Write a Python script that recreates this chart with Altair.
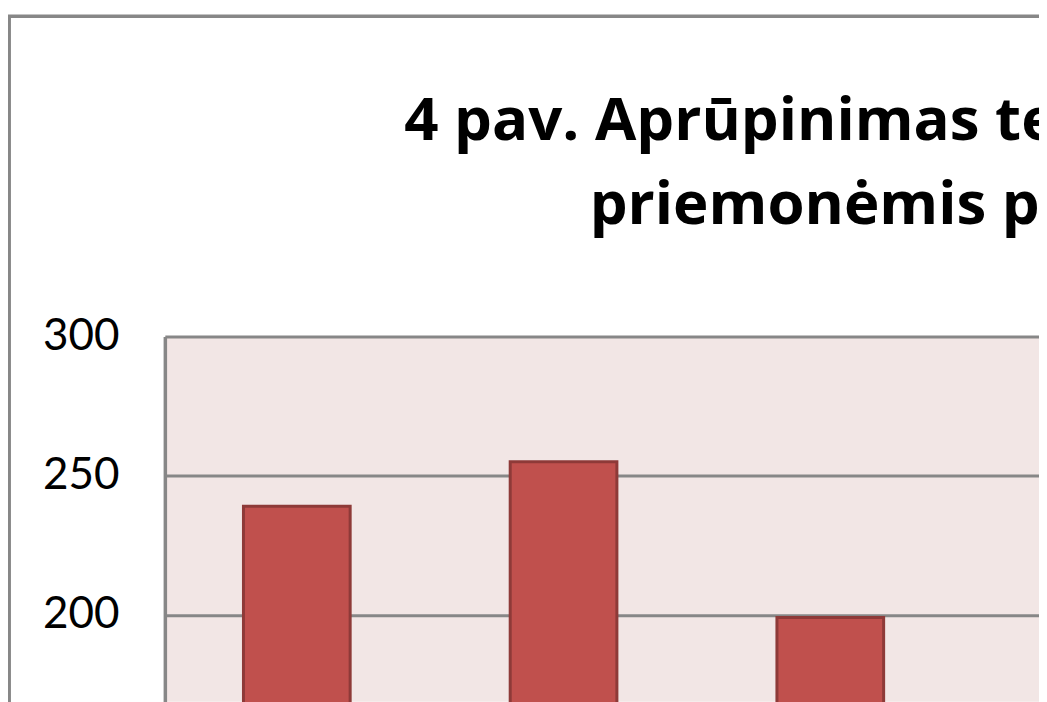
import altair as alt
import pandas as pd

# Data read from the (cropped) reference
categories = ["A", "B", "C"]
values = [239, 255, 199]

title_lines = ["4 pav. Aprūpinimas techninės pagalbos", "priemonėmis pagal metus."]
y_ticks = [0, 50, 100, 150, 200, 250, 300]

df = pd.DataFrame({"cat": categories, "val": values})

FONT = "Lato"
TITLE_FONT = "Open Sans"

bars = alt.Chart(df).mark_bar(
    color="#C0504D", stroke="#8E3A38", strokeWidth=3
).encode(
    x=alt.X("cat:N", sort=categories, axis=None,
            scale=alt.Scale(paddingInner=0.6, paddingOuter=0.4386, align=0.336)),
    y=alt.Y("val:Q",
            scale=alt.Scale(domain=[0, 300], range=[835.5, 0], nice=False, zero=True),
            axis=alt.Axis(values=y_ticks, title=None, grid=True, gridColor="#878787",
                          gridWidth=3, domain=True, domainColor="#878787", domainWidth=3.5,
                          ticks=False, labelFont=FONT, labelFontSize=44, labelColor="#000000",
                          labelPadding=46, labelBaseline="middle")),
)

border = alt.Chart(alt.Data(values=[{"k": 1}])).mark_rect(
    filled=False, stroke="#878787", strokeWidth=3.5
).encode(
    x=alt.value(-155.8), x2=alt.value(3000),
    y=alt.value(-320.7), y2=alt.value(3000),
)

chart = alt.layer(border, bars).properties(
    width=875,
    height=365.5,
    title=alt.TitleParams(
        text=title_lines, font=TITLE_FONT, fontSize=60, fontWeight="bold", color="#000000",
        lineHeight=84, anchor="middle", frame="group", dx=386.5, offset=-223,
    ),
    autosize=alt.AutoSizeParams(type="none"),
    padding={"left": 157, "top": 328.5, "right": 0, "bottom": 0},
).configure(
    background="#FFFFFF",
    view=alt.ViewConfig(fill="#F2E6E5", stroke=None),
)

chart.save("out.html", embed_options={"renderer": "svg", "actions": False})
